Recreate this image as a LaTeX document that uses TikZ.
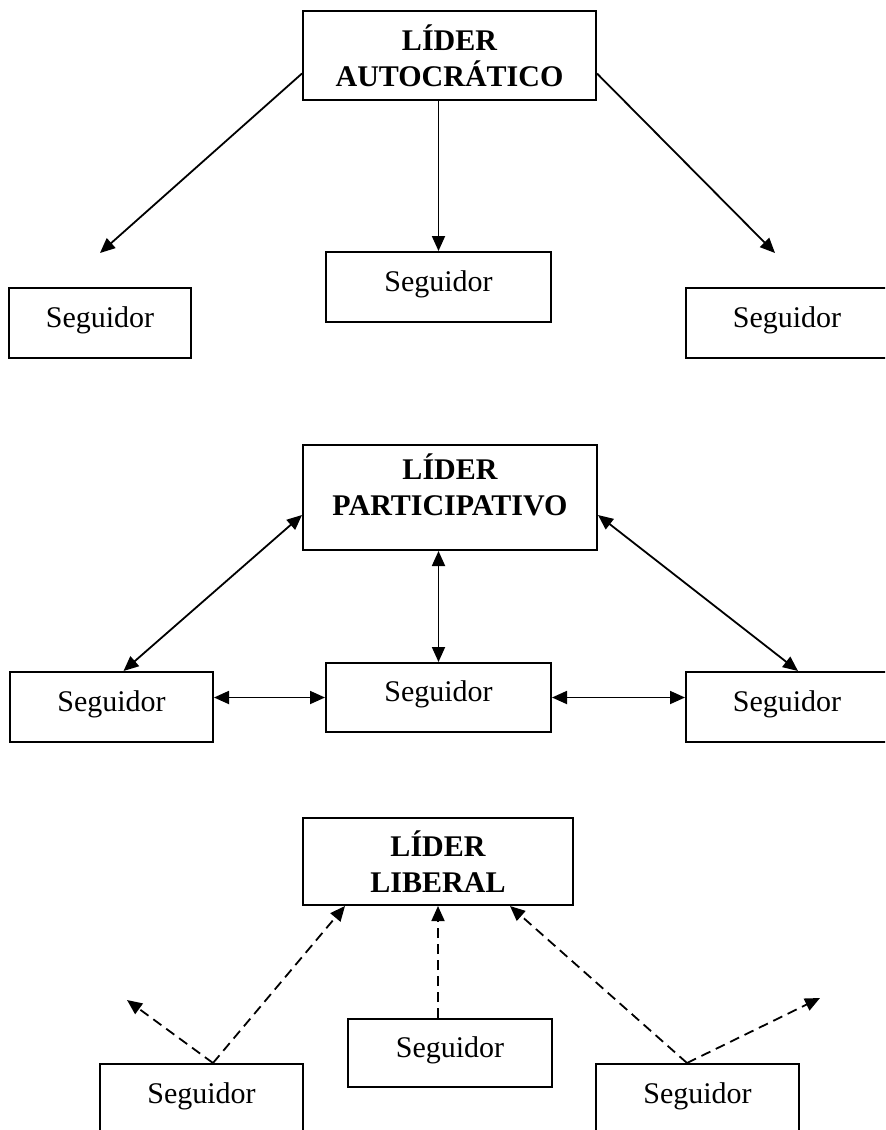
\documentclass[tikz,border=0pt]{standalone}
\usepackage{fontspec}
\setmainfont{Liberation Serif}
\usetikzlibrary{arrows.meta}
\tikzset{caja/.style={rectangle,draw,line width=1pt,inner sep=0pt,align=center}}
\tikzset{lider/.style={caja,font=\fontsize{15}{18}\selectfont\bfseries}}
\tikzset{seg/.style={caja,font=\fontsize{15}{18}\selectfont,minimum height=35pt,text depth=6pt}}
\tikzset{punta/.style={line width=0.9pt,-{Triangle[length=7.5pt,width=6.5pt]}}}
\tikzset{doble/.style={line width=0.9pt,{Triangle[length=7.5pt,width=6.5pt]}-{Triangle[length=7.5pt,width=6.5pt]}}}
\tikzset{libre/.style={punta,dash pattern=on 5pt off 3pt}}

\begin{document}
\begin{tikzpicture}[x=0.5pt,y=-0.5pt]
      \useasboundingbox (0,0) rectangle (885,1130);
      \clip (0,0) rectangle (885,1130);
      % autocratico
      \node[lider,minimum width=146.5pt,minimum height=44.5pt] (LA) at (449.5,55.5) {LÍDER\\AUTOCRÁTICO};
      \node[seg,minimum width=91pt] (sa1) at (100,323) {Seguidor};
      \node[seg,minimum width=112.5pt] (sa2) at (438.5,287) {Seguidor};
      \node[seg,minimum width=101pt] (sa3) at (787,323) {Seguidor};
      \coordinate (ta1) at (100,253);
      \coordinate (ta3) at (775,253);
      \draw[punta] ([yshift=-9pt]LA.west) -- (ta1);
      \draw[punta] (sa2.north |- LA.south) -- (sa2.north);
      \draw[punta] ([yshift=-9pt]LA.east) -- (ta3);
      % participativo
      \node[lider,minimum width=147pt,minimum height=52.5pt,text depth=13pt] (LB) at (450,497.5) {LÍDER\\PARTICIPATIVO};
      \node[seg,minimum width=101.5pt] (sb1) at (111.5,707) {Seguidor};
      \node[seg,minimum width=112.5pt,minimum height=34.5pt] (sb2) at (438.5,697.5) {Seguidor};
      \node[seg,minimum width=101pt] (sb3) at (787,707) {Seguidor};
      \draw[doble] ([yshift=-8.75pt]LB.west) -- ([xshift=6pt]sb1.north);
      \draw[doble] (sb2.north |- LB.south) -- (sb2.north);
      \draw[doble] ([yshift=-8.75pt]LB.east) -- ([xshift=5.5pt]sb3.north);
      \draw[doble] (sb2.west -| sb1.east) -- (sb2.west);
      \draw[doble] (sb2.east) -- (sb2.east -| sb3.west);
      % liberal
      \node[lider,minimum width=135pt,minimum height=43.5pt] (LC) at (438,861.5) {LÍDER\\LIBERAL};
      \node[seg,minimum width=101.5pt] (sc1) at (201.5,1099) {Seguidor};
      \node[seg,minimum width=102pt,minimum height=34pt] (sc2) at (450,1053) {Seguidor};
      \node[seg,minimum width=101.5pt] (sc3) at (697.5,1099) {Seguidor};
      \coordinate (tc1) at (127,1000);
      \coordinate (tc3) at (820,998);
      \draw[libre] ([xshift=5.75pt]sc1.north) -- ([xshift=-46.5pt]LC.south);
      \draw[libre] ([xshift=5.75pt]sc1.north) -- (tc1);
      \draw[libre] (LC.south |- sc2.north) -- (LC.south);
      \draw[libre] ([xshift=-5.25pt]sc3.north) -- ([xshift=36pt]LC.south);
      \draw[libre] ([xshift=-5.25pt]sc3.north) -- (tc3);
    \end{tikzpicture}
\end{document}
